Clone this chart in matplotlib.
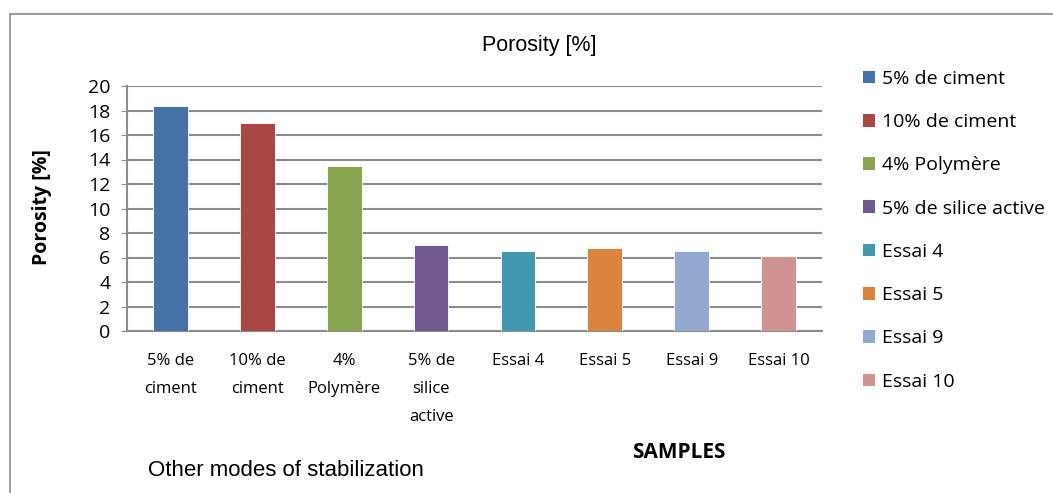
import matplotlib
matplotlib.use("Agg")
import matplotlib.pyplot as plt
from matplotlib.patches import Rectangle, Patch

# porosity per sample
samples = ["5% de\nciment", "10% de\nciment", "4%\nPolymère", "5% de\nsilice\nactive",
           "Essai 4", "Essai 5", "Essai 9", "Essai 10"]
legend_names = ["5% de ciment", "10% de ciment", "4% Polymère", "5% de silice active",
                "Essai 4", "Essai 5", "Essai 9", "Essai 10"]
porosity = [18.4, 17.0, 13.5, 7.0, 6.5, 6.8, 6.5, 6.1]
colors = ["#4572A7", "#AA4643", "#89A54E", "#71588F",
          "#4198AF", "#DB843D", "#93A9CF", "#D19392"]
yticks = list(range(0, 21, 2))

FONT = "Open Sans"

fig = plt.figure(figsize=(10.53, 4.93), dpi=100)

# outer chart border
fig.add_artist(Rectangle((10 / 1053, -0.05), 1.1, 1 - 14 / 493 + 0.05,
                         transform=fig.transFigure, fill=False,
                         edgecolor="#8c8c8c", linewidth=1.2))

ax = fig.add_axes([127 / 1053, 1 - 331 / 493, 695 / 1053, 245 / 493])
x = list(range(len(porosity)))
ax.bar(x, porosity, width=0.4, color=colors, edgecolor="white", linewidth=0.6, zorder=3)

ax.set_xlim(-0.5, len(porosity) - 0.5)
ax.set_ylim(0, 20)
ax.set_yticks(yticks)
ax.set_yticklabels([str(t) for t in yticks], fontfamily=FONT, fontsize=14)
ax.set_xticks(x)
ax.set_xticklabels(samples, fontfamily=FONT, fontsize=12, linespacing=1.97, va="top")
ax.tick_params(axis="x", length=0, pad=16)
ax.tick_params(axis="y", length=4, color="#8c8c8c", pad=8)
ax.yaxis.grid(True, color="#8c8c8c", linewidth=1.5, zorder=0)
ax.set_axisbelow(True)
for side in ["top", "right"]:
    ax.spines[side].set_visible(False)
for side in ["left", "bottom"]:
    ax.spines[side].set_color("#8c8c8c")
    ax.spines[side].set_linewidth(1.5)

fig.text(42 / 1053, 1 - 207 / 493, "Porosity [%]", fontfamily=FONT, fontweight="bold",
         fontsize=14, rotation=90, ha="center", va="center")

fig.text(539 / 1053, 1 - 45 / 493, "Porosity [%]", fontfamily="Liberation Sans",
         fontsize=15.5, ha="center", va="center")
fig.text(679 / 1053, 1 - 452 / 493, "SAMPLES", fontfamily=FONT, fontweight="bold",
         fontsize=15, ha="center", va="center")
fig.text(148 / 1053, 1 - 470 / 493, "Other modes of stabilization",
         fontfamily="Liberation Sans", fontsize=16, ha="left", va="center")

handles = [Patch(facecolor=c, edgecolor="none") for c in colors]
fig.legend(handles, legend_names, loc="upper left", bbox_to_anchor=(855 / 1053, 1 - 62 / 493),
           frameon=False, prop={"family": FONT, "size": 14},
           handlelength=0.62, handleheight=0.62, handletextpad=0.35, labelspacing=1.3,
           borderaxespad=0)

fig.savefig("out.png", dpi=100)
